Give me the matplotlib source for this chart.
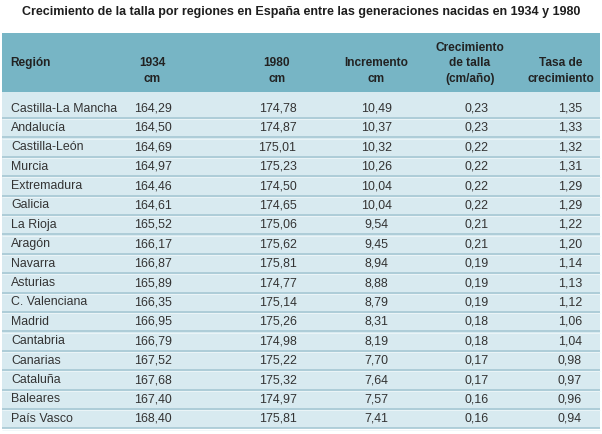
import matplotlib
matplotlib.use("Agg")
import matplotlib.pyplot as plt
from matplotlib.patches import Rectangle

plt.rcParams["font.family"] = ["Liberation Sans", "DejaVu Sans"]

title = "Crecimiento de la talla por regiones en España entre las generaciones nacidas en 1934 y 1980"

headers = ["Región", "1934\ncm", "1980\ncm", "Incremento\ncm",
           "Crecimiento\nde talla\n(cm/año)", "Tasa de\ncrecimiento"]

regions = ["Castilla-La Mancha", "Andalucía", "Castilla-León", "Murcia",
           "Extremadura", "Galicia", "La Rioja", "Aragón", "Navarra",
           "Asturias", "C. Valenciana", "Madrid", "Cantabria", "Canarias",
           "Cataluña", "Baleares", "País Vasco"]
talla_1934 = [164.29, 164.50, 164.69, 164.97, 164.46, 164.61, 165.52, 166.17,
              166.87, 165.89, 166.35, 166.95, 166.79, 167.52, 167.68, 167.40, 168.40]
talla_1980 = [174.78, 174.87, 175.01, 175.23, 174.50, 174.65, 175.06, 175.62,
              175.81, 174.77, 175.14, 175.26, 174.98, 175.22, 175.32, 174.97, 175.81]
incremento = [10.49, 10.37, 10.32, 10.26, 10.04, 10.04, 9.54, 9.45, 8.94,
              8.88, 8.79, 8.31, 8.19, 7.70, 7.64, 7.57, 7.41]
crec_talla = [0.23, 0.23, 0.22, 0.22, 0.22, 0.22, 0.21, 0.21, 0.19,
              0.19, 0.19, 0.18, 0.18, 0.17, 0.17, 0.16, 0.16]
tasa = [1.35, 1.33, 1.32, 1.31, 1.29, 1.29, 1.22, 1.20, 1.14,
        1.13, 1.12, 1.06, 1.04, 0.98, 0.97, 0.96, 0.94]


def fmt(v):
    return f"{v:.2f}".replace(".", ",")


W, H = 602, 435
fig = plt.figure(figsize=(W / 100, H / 100), dpi=100)
ax = fig.add_axes([0, 0, 1, 1])
ax.set_xlim(0, W)
ax.set_ylim(H, 0)
ax.axis("off")

# layout in pixels
left, right = 2, 600
head_top, head_bot = 34, 93
first_bot = 119
row_h = 19.4
n = len(regions)
bottom = first_bot + (n - 1) * row_h

head_col = "#77b5c5"
body_col = "#d8eaf0"
line_col = "#a6c8d4"

ax.text(W / 2, 12.5, title, ha="center", va="center", fontsize=9.0,
        fontweight="bold", color="#1e1e1e")

ax.add_patch(Rectangle((left, head_top), right - left, head_bot - head_top,
                       facecolor=head_col, edgecolor="none"))
ax.add_patch(Rectangle((left, head_bot), right - left, bottom - head_bot,
                       facecolor=body_col, edgecolor="none"))

# header: first column centred vertically, others bottom aligned
head_x = [10, 152, 277, 376, 470, 561]
ax.text(head_x[0], 63, headers[0], ha="left", va="center", fontsize=8.6,
        fontweight="bold", color="#222222")
for hx, h in zip(head_x[1:], headers[1:]):
    lines = h.split("\n")
    for k, line in enumerate(reversed(lines)):
        ax.text(hx, 79 - 15.5 * k, line, ha="center", va="center",
                fontsize=8.6, fontweight="bold", color="#222222")

# rows
val_x = [153, 277.5, 376.5, 476.5, 570]
cols = [talla_1934, talla_1980, incremento, crec_talla, tasa]
for r in range(n):
    yc = first_bot - 10.5 + r * row_h
    ax.text(11, yc, regions[r], ha="left", va="center", fontsize=8.9,
            color="#333333")
    for vx, col in zip(val_x, cols):
        ax.text(vx, yc, fmt(col[r]), ha="center", va="center",
                fontsize=8.9, color="#333333")
    ysep = first_bot + r * row_h
    ax.plot([left, right], [ysep, ysep], color=line_col, lw=1.2,
            solid_capstyle="butt")
    ax.plot([left, right], [ysep + 1.2, ysep + 1.2], color="#eef6f9",
            lw=0.6, solid_capstyle="butt")

fig.savefig("out.png", dpi=100, facecolor="white")
